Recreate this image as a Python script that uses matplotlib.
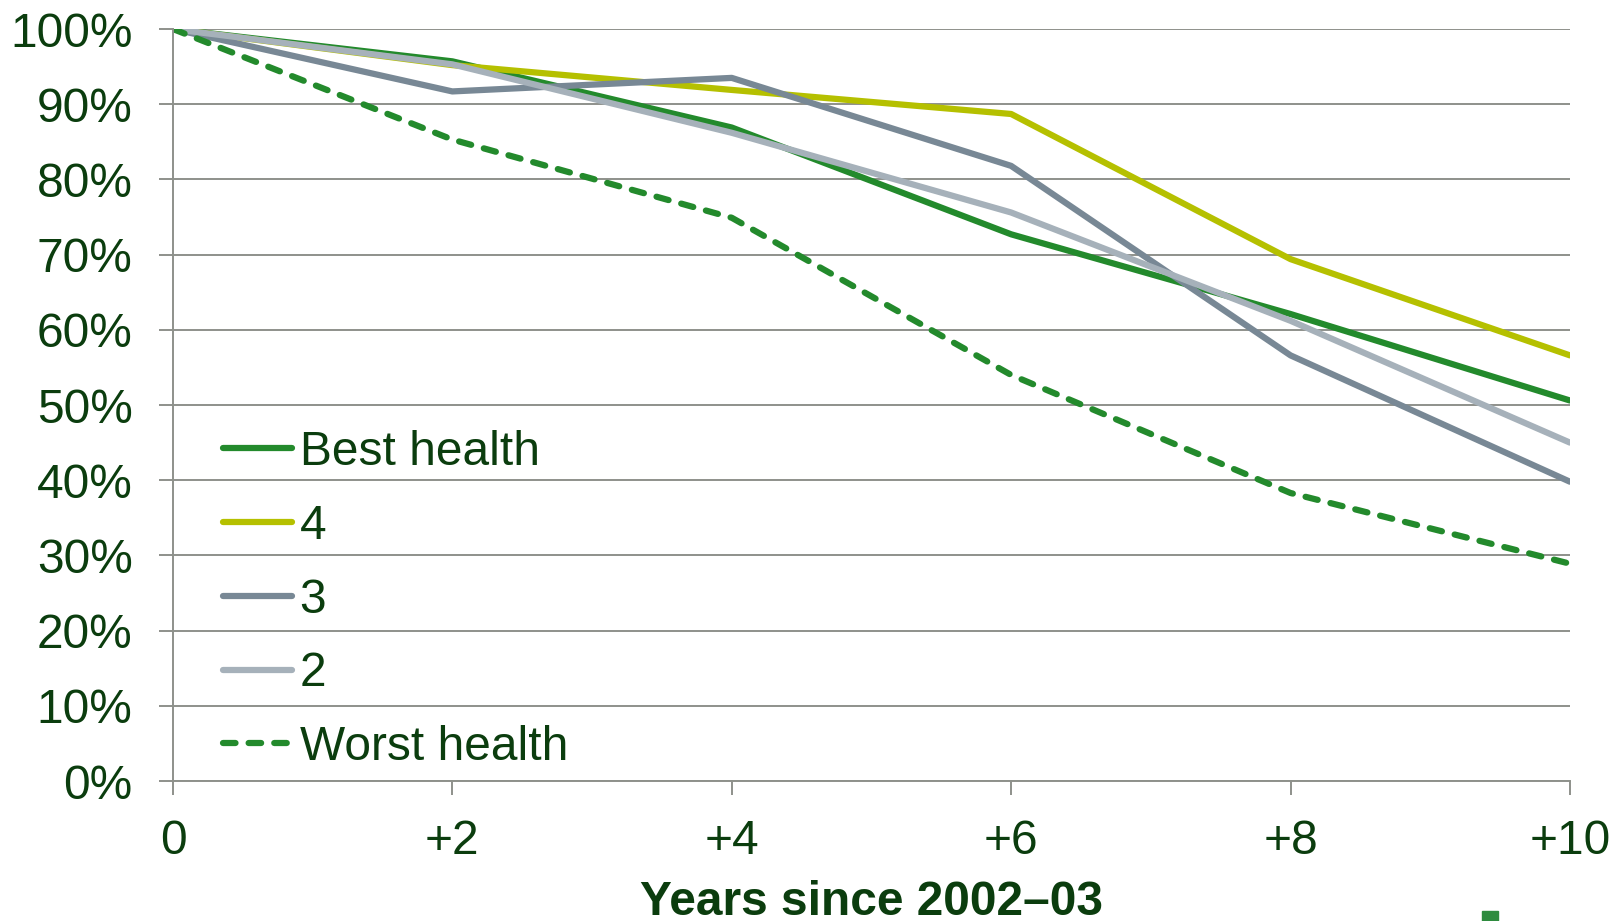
import matplotlib.pyplot as plt
from matplotlib.patches import Rectangle
from matplotlib.ticker import FuncFormatter

plt.rcParams["font.family"] = ["Liberation Sans", "DejaVu Sans"]

# share of each health group still alive, by years since 2002-03
years = [0, 2, 4, 6, 8, 10]
x_labels = ["0", "+2", "+4", "+6", "+8", "+10"]
best_health = [100, 95.7, 86.9, 72.7, 62.1, 50.6]
health_4 = [100, 95.2, 91.9, 88.7, 69.4, 56.6]
health_3 = [100, 91.7, 93.5, 81.8, 56.6, 39.8]
health_2 = [100, 95.3, 86.2, 75.6, 61.2, 45.0]
worst_health = [100, 85.3, 74.9, 54.0, 38.3, 28.9]

TEXT = "#0b3d0e"
GRID = "#8e918b"
GREEN = "#238a2c"
FS = 34.5

fig = plt.figure(figsize=(16.24, 9.21), dpi=100)
ax = fig.add_axes([0.1065, 0.152, 0.8602, 0.8165])

lw = 4.5
style = dict(lw=lw, solid_capstyle="round", solid_joinstyle="round")
ax.plot(years, best_health, color=GREEN, label="Best health", **style)
ax.plot(years, health_4, color="#b5c000", label="4", **style)
ax.plot(years, health_3, color="#788895", label="3", **style)
ax.plot(years, health_2, color="#a6b1ba", label="2", **style)
ax.plot(years, worst_health, color=GREEN, lw=lw, ls=(0, (2.0, 2.1)),
        label="Worst health", dash_capstyle="round", dash_joinstyle="round")

ax.set_xlim(0, 10)
ax.set_ylim(0, 100)
ax.set_xticks(years)
ax.set_xticklabels(x_labels)
ax.set_yticks(range(0, 101, 10))
ax.yaxis.set_major_formatter(FuncFormatter(lambda v, _: f"{v:.0f}%"))

ax.grid(axis="y", color=GRID, lw=1.4)
ax.set_axisbelow(True)
for side in ["top", "right"]:
    ax.spines[side].set_visible(False)
for side in ["left", "bottom"]:
    ax.spines[side].set_color(GRID)
    ax.spines[side].set_linewidth(1.4)

ax.tick_params(axis="both", colors=GRID, labelcolor=TEXT, labelsize=FS,
               length=10, width=1.4)
ax.tick_params(axis="y", pad=19)
ax.tick_params(axis="x", pad=17)

ax.set_xlabel("Years since 2002\u201303", fontsize=FS, fontweight="bold",
              color=TEXT, labelpad=12)

leg = ax.legend(loc="upper left", bbox_to_anchor=(0.022, 0.492), frameon=False,
                fontsize=FS, handlelength=1.45, handletextpad=0.15,
                labelspacing=0.6, borderaxespad=0)
for t in leg.get_texts():
    t.set_color(TEXT)

# small marker in the bottom-right corner
fig.patches.append(Rectangle((1482 / 1624, 0), 16 / 1624, 10 / 921,
                             transform=fig.transFigure, color="#2e8b3e"))

fig.savefig("out.png", dpi=100)
